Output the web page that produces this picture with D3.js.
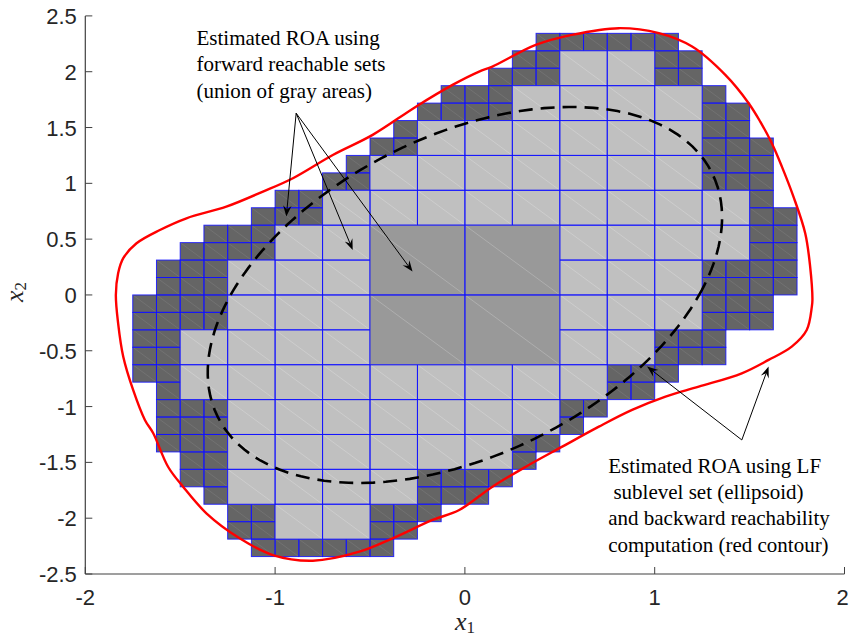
<!DOCTYPE html>
<html>
<head>
<meta charset="utf-8">
<script src="https://cdn.jsdelivr.net/npm/d3@7"></script>
<style>
  body { margin: 0; background: #fff; }
  svg { display: block; }
  .tick-label { font-family: "Liberation Sans", Arial, sans-serif; font-size: 22px; fill: #262626; }
  .note { font-family: "Liberation Serif", "Times New Roman", serif; font-size: 21px; fill: #000; white-space: pre; }
  .axis-title { font-family: "Liberation Serif", "Times New Roman", serif; font-style: italic; fill: #262626; }
</style>
</head>
<body>
<svg id="chart" width="850" height="637"></svg>
<script>
// ---- axes ----
const xDomain = [-2, 2];
const yDomain = [-2.5, 2.5];
const xTicks = [-2, -1, 0, 1, 2];
const yTicks = [2.5, 2, 1.5, 1, 0.5, 0, -0.5, -1, -1.5, -2, -2.5];
const xTickLabels = ["-2", "-1", "0", "1", "2"];
const yTickLabels = ["2.5", "2", "1.5", "1", "0.5", "0", "-0.5", "-1", "-1.5", "-2", "-2.5"];

// ---- state-space partition: 32 x 32 fine cells of 0.125 x 0.15625 ----
const cellW = 0.125;
const cellH = 0.15625;
// each row j (0 = bottom) lists runs [kind, firstColumn, lastColumn]
// D = fine cell, L = part of a 2x2 block, M = part of a 4x4 block
const rowRuns = [
  [30, [["D", 19, 24]]],
  [29, [["D", 18, 19], ["L", 20, 23], ["D", 24, 25]]],
  [28, [["D", 17, 19], ["L", 20, 23], ["D", 24, 25]]],
  [27, [["D", 15, 17], ["L", 18, 25], ["D", 26, 26]]],
  [26, [["D", 14, 17], ["L", 18, 25], ["D", 26, 27]]],
  [25, [["D", 13, 13], ["L", 14, 25], ["D", 26, 27]]],
  [24, [["D", 12, 13], ["L", 14, 25], ["D", 26, 28]]],
  [23, [["D", 11, 11], ["L", 12, 25], ["D", 26, 28]]],
  [22, [["D", 10, 11], ["L", 12, 25], ["D", 26, 28]]],
  [21, [["D", 8, 9], ["L", 10, 27], ["D", 28, 28]]],
  [20, [["D", 7, 9], ["L", 10, 27], ["D", 28, 29]]],
  [19, [["D", 5, 7], ["L", 8, 11], ["M", 12, 19], ["L", 20, 27], ["D", 28, 29]]],
  [18, [["D", 4, 7], ["L", 8, 11], ["M", 12, 19], ["L", 20, 27], ["D", 28, 29]]],
  [17, [["D", 3, 5], ["L", 6, 11], ["M", 12, 19], ["L", 20, 25], ["D", 26, 29]]],
  [16, [["D", 3, 5], ["L", 6, 11], ["M", 12, 19], ["L", 20, 25], ["D", 26, 29]]],
  [15, [["D", 2, 5], ["L", 6, 11], ["M", 12, 19], ["L", 20, 25], ["D", 26, 28]]],
  [14, [["D", 2, 5], ["L", 6, 11], ["M", 12, 19], ["L", 20, 25], ["D", 26, 28]]],
  [13, [["D", 2, 3], ["L", 4, 11], ["M", 12, 19], ["L", 20, 23], ["D", 24, 26]]],
  [12, [["D", 2, 3], ["L", 4, 11], ["M", 12, 19], ["L", 20, 23], ["D", 24, 26]]],
  [11, [["D", 2, 3], ["L", 4, 21], ["D", 22, 24]]],
  [10, [["D", 3, 3], ["L", 4, 21], ["D", 22, 23]]],
  [9, [["D", 3, 5], ["L", 6, 19], ["D", 20, 21]]],
  [8, [["D", 3, 5], ["L", 6, 19], ["D", 20, 20]]],
  [7, [["D", 3, 5], ["L", 6, 17], ["D", 18, 19]]],
  [6, [["D", 4, 5], ["L", 6, 17], ["D", 18, 18]]],
  [5, [["D", 4, 5], ["L", 6, 13], ["D", 14, 17]]],
  [4, [["D", 5, 5], ["L", 6, 13], ["D", 14, 16]]],
  [3, [["D", 6, 7], ["L", 8, 11], ["D", 12, 14]]],
  [2, [["D", 6, 7], ["L", 8, 11], ["D", 12, 13]]],
  [1, [["D", 7, 12]]]
];

// ---- Lyapunov sublevel set x' P x = 1, P = [[p11, p12], [p12, p22]] ----
const ellipseP = [0.6565, -0.218, 0.4249];

// ---- backward reachable set boundary (x1, x2) ----
const redContourX = [
  -1.839, -1.827, -1.800, -1.730, -1.607, -1.467, -1.257, -1.064, -0.906, -0.696,
  -0.486, -0.258, -0.065, 0.075, 0.145, 0.373, 0.564, 0.811, 1.022, 1.197,
  1.372, 1.495, 1.556, 1.617, 1.670, 1.731, 1.793, 1.819, 1.831, 1.828,
  1.801, 1.722, 1.600, 1.459, 1.232, 1.057, 0.881, 0.706, 0.513, 0.321,
  0.145, -0.030, -0.170, -0.381, -0.556, -0.801, -1.012, -1.187, -1.362, -1.485,
  -1.564, -1.642, -1.686, -1.748, -1.800, -1.827
];
const redContourY = [
  0.000, 0.194, 0.329, 0.463, 0.582, 0.687, 0.791, 0.926, 1.046, 1.254,
  1.434, 1.687, 1.882, 2.001, 2.046, 2.240, 2.330, 2.390, 2.345, 2.225,
  1.971, 1.718, 1.553, 1.359, 1.150, 0.881, 0.553, 0.254, -0.045, -0.105,
  -0.314, -0.463, -0.582, -0.702, -0.822, -0.911, -1.030, -1.180, -1.359, -1.539,
  -1.718, -1.927, -2.016, -2.180, -2.300, -2.381, -2.330, -2.180, -1.956, -1.718,
  -1.539, -1.239, -1.120, -0.851, -0.553, -0.254
];

// ---- annotations ----
const noteTopLines = ["Estimated ROA using", "forward reachable sets", "(union of gray areas)"];
const noteBottomLines = ["Estimated ROA using LF", " sublevel set (ellipsoid)", "and backward reachability", "computation (red contour)"];
const noteTopAnchor = [-1.414, 2.240];
const noteBottomAnchor = [0.755, -1.592];
const noteLineStep = 0.2365;
const arrowsTop = { from: [-0.889, 1.628], to: [[-0.941, 0.702], [-0.591, 0.403], [-0.276, 0.209]] };
const arrowsBottom = { from: [1.459, -1.299], to: [[0.960, -0.642], [1.600, -0.642]] };

// ---------------------------------------------------------------
const W = 850;
const svg = d3.select("#chart");
const x = d3.scaleLinear().domain(xDomain).range([85.3, 844.5]);
const y = d3.scaleLinear().domain(yDomain).range([574, 15.9]);

// expand the runs into cells / blocks
const fine = [], blocks2 = [], blocks4 = [];
rowRuns.forEach(([j, runs]) => {
  runs.forEach(([kind, a, b]) => {
    for (let i = a; i <= b; i++) {
      if (kind === "D") fine.push({ i, j, n: 1 });
      else if (kind === "L" && i % 2 === 0 && j % 2 === 0) blocks2.push({ i, j, n: 2 });
      else if (kind === "M" && i % 4 === 0 && j % 4 === 0) blocks4.push({ i, j, n: 4 });
    }
  });
});

const gCells = svg.append("g");
function cellBox(c) {
  const x0 = xDomain[0] + c.i * cellW, x1 = x0 + c.n * cellW;
  const y0 = yDomain[0] + c.j * cellH, y1 = y0 + c.n * cellH;
  return { px: x(x0), py: y(y1), w: x(x1) - x(x0), h: y(y0) - y(y1) };
}
function drawCells(list, fill, seamOpacity) {
  const g = gCells.append("g");
  list.forEach(c => {
    const b = cellBox(c);
    g.append("rect").attr("x", b.px).attr("y", b.py).attr("width", b.w).attr("height", b.h)
      .attr("fill", fill).attr("stroke", "none");
    // faint seam along the patch diagonal
    g.append("line").attr("x1", b.px).attr("y1", b.py).attr("x2", b.px + b.w).attr("y2", b.py + b.h)
      .attr("stroke", "#ffffff").attr("stroke-opacity", seamOpacity).attr("stroke-width", 0.7);
  });
  list.forEach(c => {
    const b = cellBox(c);
    g.append("rect").attr("x", b.px).attr("y", b.py).attr("width", b.w).attr("height", b.h)
      .attr("fill", "none").attr("stroke", "#1010ff").attr("stroke-opacity", 0.85).attr("stroke-width", 1);
  });
}
drawCells(fine, "#656565", 0.12);
drawCells(blocks2, "#c0c0c0", 0.3);
drawCells(blocks4, "#999999", 0.3);

// Lyapunov ellipse
const [p11, p12, p22] = ellipseP;
const ellPts = d3.range(0, 361, 2).map(deg => {
  const t = deg * Math.PI / 180, c = Math.cos(t), s = Math.sin(t);
  const r = 1 / Math.sqrt(p11 * c * c + 2 * p12 * c * s + p22 * s * s);
  return [r * c, r * s];
});
const lineGen = d3.line().x(d => x(d[0])).y(d => y(d[1])).curve(d3.curveLinear);
svg.append("path").datum(ellPts).attr("d", lineGen)
  .attr("fill", "none").attr("stroke", "#000").attr("stroke-width", 2.6)
  .attr("stroke-dasharray", "14,8");

// backward reachable contour
const redPts = redContourX.map((v, k) => [v, redContourY[k]]);
svg.append("path").datum(redPts)
  .attr("d", d3.line().x(d => x(d[0])).y(d => y(d[1])).curve(d3.curveCatmullRomClosed.alpha(0.5)))
  .attr("fill", "none").attr("stroke", "#ff0000").attr("stroke-width", 2.4);

// axes (left and bottom only, ticks inside)
const axisColor = "#404040";
const gAxis = svg.append("g");
gAxis.append("line").attr("x1", x(xDomain[0])).attr("x2", x(xDomain[0]))
  .attr("y1", y(yDomain[1])).attr("y2", y(yDomain[0])).attr("stroke", axisColor).attr("stroke-width", 1.2);
gAxis.append("line").attr("x1", x(xDomain[0])).attr("x2", x(xDomain[1]))
  .attr("y1", y(yDomain[0])).attr("y2", y(yDomain[0])).attr("stroke", axisColor).attr("stroke-width", 1.2);
yTicks.forEach((v, k) => {
  gAxis.append("line").attr("x1", x(xDomain[0])).attr("x2", x(xDomain[0]) + 7)
    .attr("y1", y(v)).attr("y2", y(v)).attr("stroke", axisColor).attr("stroke-width", 1);
  gAxis.append("text").attr("class", "tick-label").attr("x", x(xDomain[0]) - 8.5).attr("y", y(v) + 8)
    .attr("text-anchor", "end").text(yTickLabels[k]);
});
xTicks.forEach((v, k) => {
  gAxis.append("line").attr("x1", x(v)).attr("x2", x(v))
    .attr("y1", y(yDomain[0])).attr("y2", y(yDomain[0]) - 7).attr("stroke", axisColor).attr("stroke-width", 1);
  gAxis.append("text").attr("class", "tick-label").attr("x", Math.min(x(v), W - 7.5)).attr("y", y(yDomain[0]) + 31)
    .attr("text-anchor", "middle").text(xTickLabels[k]);
});

// axis titles
const xt = svg.append("text").attr("class", "axis-title").attr("x", 465).attr("y", 630)
  .attr("text-anchor", "middle");
xt.append("tspan").attr("font-size", 26).text("x");
xt.append("tspan").attr("font-size", 17).attr("font-style", "normal").attr("dy", 3).text("1");
const yt = svg.append("text").attr("class", "axis-title")
  .attr("transform", "translate(23,292) rotate(-90)").attr("text-anchor", "middle");
yt.append("tspan").attr("font-size", 26).text("x");
yt.append("tspan").attr("font-size", 17).attr("font-style", "normal").attr("dy", 3).text("2");

// annotation text
function drawNote(lines, anchor) {
  lines.forEach((s, k) => {
    svg.append("text").attr("class", "note")
      .attr("x", x(anchor[0])).attr("y", y(anchor[1] - k * noteLineStep)).text(s);
  });
}
drawNote(noteTopLines, noteTopAnchor);
drawNote(noteBottomLines, noteBottomAnchor);

// arrows
function drawArrow(from, to) {
  const x0 = x(from[0]), y0 = y(from[1]), x1 = x(to[0]), y1 = y(to[1]);
  const ang = Math.atan2(y1 - y0, x1 - x0);
  const L = 11, hw = 4.2, notch = 7;
  const bx = x1 - L * Math.cos(ang), by = y1 - L * Math.sin(ang);
  const nx = x1 - notch * Math.cos(ang), ny = y1 - notch * Math.sin(ang);
  const px = -Math.sin(ang), py = Math.cos(ang);
  svg.append("line").attr("x1", x0).attr("y1", y0).attr("x2", nx).attr("y2", ny)
    .attr("stroke", "#000").attr("stroke-width", 1);
  svg.append("path")
    .attr("d", `M${x1},${y1}L${bx + hw * px},${by + hw * py}L${nx},${ny}L${bx - hw * px},${by - hw * py}Z`)
    .attr("fill", "#000");
}
arrowsTop.to.forEach(t => drawArrow(arrowsTop.from, t));
arrowsBottom.to.forEach(t => drawArrow(arrowsBottom.from, t));
</script>
</body>
</html>
